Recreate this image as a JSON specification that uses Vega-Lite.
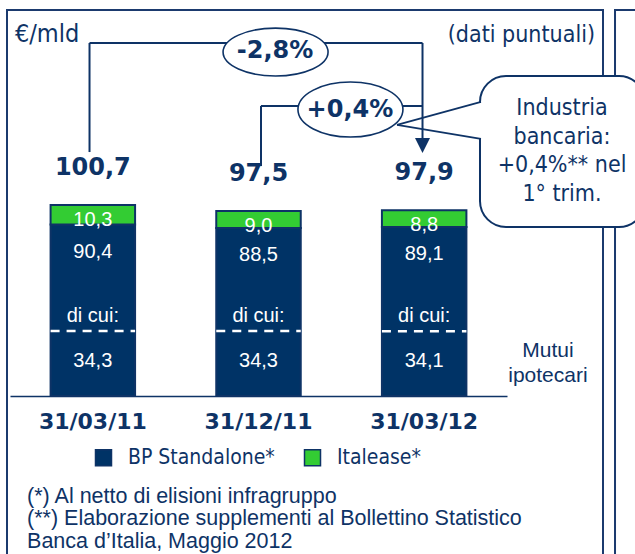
{
 "$schema": "https://vega.github.io/schema/vega-lite/v6.json",
 "width": 497,
 "height": 396,
 "autosize": {"type": "none"},
 "padding": {"left": 10, "top": 0, "right": 128, "bottom": 158},
 "background": "white",
 "config": {
  "view": {"stroke": null},
  "axisQuantitative": {"disable": true},
  "locale": {"number": {"decimal": ",", "thousands": ".", "grouping": [3], "currency": ["", " €"]}}
 },
 "datasets": {
  "bars": [
   {"date": "31/03/11", "series": "BP Standalone*", "value": 90.4},
   {"date": "31/03/11", "series": "Italease*", "value": 10.3},
   {"date": "31/12/11", "series": "BP Standalone*", "value": 88.5},
   {"date": "31/12/11", "series": "Italease*", "value": 9.0},
   {"date": "31/03/12", "series": "BP Standalone*", "value": 89.1},
   {"date": "31/03/12", "series": "Italease*", "value": 8.8}
  ],
  "mutui": [
   {"date": "31/03/11", "value": 34.3},
   {"date": "31/12/11", "value": 34.3},
   {"date": "31/03/12", "value": 34.1}
  ]
 },
 "resolve": {"scale": {"x": "independent"}},
 "layer": [
  {
   "data": {"values": [{}]},
   "layer": [
    {"mark": {"type": "rect", "filled": false, "stroke": "#1b3a6e", "strokeWidth": 2},
     "encoding": {"x": {"datum": -0.0181, "type": "quantitative", "scale": {"domain": [0, 3], "nice": false, "zero": false}, "axis": null}, "x2": {"datum": 3.5795},
                  "y": {"datum": 203.5, "type": "quantitative", "scale": {"domain": [0, 208.75], "nice": false, "zero": false}, "axis": null}, "y2": {"datum": -86.5}}},
    {"mark": {"type": "rect", "filled": false, "stroke": "#1b3a6e", "strokeWidth": 2},
     "encoding": {"x": {"datum": 3.652, "type": "quantitative", "axis": null}, "x2": {"datum": 4.3},
                  "y": {"datum": 203.5, "type": "quantitative", "axis": null}, "y2": {"datum": -86.5}}},
    {"mark": {"type": "rect", "fill": "white", "stroke": "#0e3366", "strokeWidth": 2, "cornerRadius": 26},
     "encoding": {"x": {"datum": 2.837, "type": "quantitative", "axis": null}, "x2": {"datum": 3.833},
                  "y": {"datum": 168.7, "type": "quantitative", "axis": null}, "y2": {"datum": 89.1}}},
    {"mark": {"type": "rect", "fill": "white", "strokeWidth": 0},
     "encoding": {"x": {"datum": 2.825, "type": "quantitative", "axis": null}, "x2": {"datum": 2.855},
                  "y": {"datum": 154.5, "type": "quantitative", "axis": null}, "y2": {"datum": 136.0}}},
    {"mark": {"type": "rule", "color": "#0e3366", "strokeWidth": 2},
     "encoding": {"x": {"datum": 0.48, "type": "quantitative", "axis": null}, "y": {"datum": 128.6, "type": "quantitative", "axis": null}, "y2": {"datum": 186.1}}},
    {"mark": {"type": "rule", "color": "#0e3366", "strokeWidth": 2},
     "encoding": {"x": {"datum": 0.48, "type": "quantitative", "axis": null}, "x2": {"datum": 2.49}, "y": {"datum": 186.1, "type": "quantitative", "axis": null}}},
    {"mark": {"type": "rule", "color": "#0e3366", "strokeWidth": 2},
     "encoding": {"x": {"datum": 2.49, "type": "quantitative", "axis": null}, "y": {"datum": 186.1, "type": "quantitative", "axis": null}, "y2": {"datum": 136.0}}},
    {"mark": {"type": "rule", "color": "#0e3366", "strokeWidth": 2},
     "encoding": {"x": {"datum": 1.515, "type": "quantitative", "axis": null}, "y": {"datum": 121.2, "type": "quantitative", "axis": null}, "y2": {"datum": 152.9}}},
    {"mark": {"type": "rule", "color": "#0e3366", "strokeWidth": 2},
     "encoding": {"x": {"datum": 1.515, "type": "quantitative", "axis": null}, "x2": {"datum": 2.49}, "y": {"datum": 152.9, "type": "quantitative", "axis": null}}},
    {"mark": {"type": "rule", "color": "#0e3366", "strokeWidth": 1.8},
     "encoding": {"x": {"datum": 2.336, "type": "quantitative", "axis": null}, "x2": {"datum": 2.843}, "y": {"datum": 142.9, "type": "quantitative", "axis": null}, "y2": {"datum": 155.0}}},
    {"mark": {"type": "rule", "color": "#0e3366", "strokeWidth": 1.8},
     "encoding": {"x": {"datum": 2.336, "type": "quantitative", "axis": null}, "x2": {"datum": 2.843}, "y": {"datum": 142.9, "type": "quantitative", "axis": null}, "y2": {"datum": 135.5}}},
    {"mark": {"type": "point", "shape": "M -1 -1 L 1 -1 L 0 1 Z", "size": 225, "filled": true, "fill": "#0e3366", "strokeWidth": 0, "opacity": 1},
     "encoding": {"x": {"datum": 2.49, "type": "quantitative", "axis": null}, "y": {"datum": 132.05, "type": "quantitative", "axis": null}}},
    {"mark": {"type": "point", "shape": "M -1 0 A 1 0.457 0 1 1 1 0 A 1 0.457 0 1 1 -1 0 Z", "size": 11025, "filled": true, "fill": "white", "stroke": "#0e3366", "strokeWidth": 1.6, "opacity": 1},
     "encoding": {"x": {"datum": 1.603, "type": "quantitative", "axis": null}, "y": {"datum": 181.3, "type": "quantitative", "axis": null}}},
    {"mark": {"type": "point", "shape": "M -1 0 A 1 0.524 0 1 1 1 0 A 1 0.524 0 1 1 -1 0 Z", "size": 11025, "filled": true, "fill": "white", "stroke": "#0e3366", "strokeWidth": 1.6, "opacity": 1},
     "encoding": {"x": {"datum": 2.055, "type": "quantitative", "axis": null}, "y": {"datum": 151.0, "type": "quantitative", "axis": null}}},
    {"data": {"values": [{"label": "-2,8%"}]},
     "mark": {"type": "text", "font": "DejaVu Sans", "fontWeight": "bold", "fontSize": 24, "color": "#0e3366", "baseline": "middle", "align": "center"},
     "encoding": {"x": {"datum": 1.6, "type": "quantitative", "axis": null}, "y": {"datum": 181.9, "type": "quantitative", "axis": null}, "text": {"field": "label"}}},
    {"data": {"values": [{"label": "+0,4%"}]},
     "mark": {"type": "text", "font": "DejaVu Sans", "fontWeight": "bold", "fontSize": 24, "color": "#0e3366", "baseline": "middle", "align": "center"},
     "encoding": {"x": {"datum": 2.052, "type": "quantitative", "axis": null}, "y": {"datum": 150.8, "type": "quantitative", "axis": null}, "text": {"field": "label"}}},
    {"mark": {"type": "text", "text": "€/mld", "font": "DejaVu Sans Condensed", "fontSize": 25, "color": "#0e3366", "baseline": "alphabetic", "align": "left"},
     "encoding": {"x": {"datum": 0.03, "type": "quantitative", "axis": null}, "y": {"datum": 186.6, "type": "quantitative", "axis": null}}},
    {"mark": {"type": "text", "text": "(dati puntuali)", "font": "DejaVu Sans Condensed", "fontSize": 23, "color": "#0e3366", "baseline": "alphabetic", "align": "right"},
     "encoding": {"x": {"datum": 3.531, "type": "quantitative", "axis": null}, "y": {"datum": 186.6, "type": "quantitative", "axis": null}}},
    {"mark": {"type": "text", "text": ["Industria", "bancaria:", "+0,4%** nel", "1° trim."], "lineHeight": 28.5, "font": "DejaVu Sans Condensed", "fontSize": 23, "color": "#0e3366", "baseline": "alphabetic", "align": "center"},
     "encoding": {"x": {"datum": 3.332, "type": "quantitative", "axis": null}, "y": {"datum": 148.1, "type": "quantitative", "axis": null}}},
    {"mark": {"type": "text", "text": ["Mutui", "ipotecari"], "lineHeight": 25, "font": "Liberation Sans", "fontSize": 21, "color": "#0e3366", "baseline": "alphabetic", "align": "center"},
     "encoding": {"x": {"datum": 3.247, "type": "quantitative", "axis": null}, "y": {"datum": 20.6, "type": "quantitative", "axis": null}}},
    {"mark": {"type": "text", "text": ["(*) Al netto di elisioni infragruppo", "(**) Elaborazione supplementi al Bollettino Statistico", "Banca d’Italia, Maggio 2012"], "lineHeight": 22.5, "font": "Liberation Sans", "fontSize": 21.5, "color": "#0e3366", "baseline": "alphabetic", "align": "left"},
     "encoding": {"x": {"datum": 0.103, "type": "quantitative", "axis": null}, "y": {"datum": -56.2, "type": "quantitative", "axis": null}}}
   ]
  },
  {
   "layer": [
    {"data": {"name": "bars"},
     "mark": {"type": "bar", "stroke": "#0e3366", "strokeWidth": 2},
     "encoding": {
      "x": {"field": "date", "type": "nominal", "sort": null,
            "scale": {"paddingInner": 0.49, "paddingOuter": 0.245},
            "axis": {"title": null, "labelFont": "DejaVu Sans", "labelFontWeight": "bold", "labelFontSize": 22, "labelColor": "#0e3366", "labelAngle": 0, "ticks": false, "tickSize": 0, "labelPadding": 32, "labelBaseline": "alphabetic", "domainColor": "#0e3366", "domainWidth": 1.5, "grid": false}},
      "y": {"field": "value", "type": "quantitative", "stack": "zero", "scale": {"domain": [0, 208.75], "nice": false, "zero": false}, "axis": null},
      "color": {"field": "series", "type": "nominal",
                "scale": {"domain": ["BP Standalone*", "Italease*"], "range": ["#003366", "#33cc33"]},
                "legend": {"title": null, "orient": "none", "legendX": 83, "legendY": 447, "direction": "horizontal", "columns": 2, "symbolType": "square", "symbolSize": 256, "symbolStrokeColor": "#0e3366", "symbolStrokeWidth": 1.5, "symbolOpacity": 1, "labelFont": "DejaVu Sans Condensed", "labelFontSize": 21, "labelColor": "#0e3366", "labelOffset": 14, "columnPadding": 26, "padding": 0}},
      "order": {"field": "series", "sort": "ascending"}
     }},
    {"data": {"name": "bars"},
     "transform": [{"joinaggregate": [{"op": "sum", "field": "value", "as": "total"}], "groupby": ["date"]}, {"filter": "datum.series == 'Italease*'"}],
     "mark": {"type": "text", "font": "Liberation Sans", "fontSize": 20, "color": "white", "baseline": "middle", "dy": 15},
     "encoding": {"x": {"field": "date", "type": "nominal", "sort": null}, "y": {"field": "total", "type": "quantitative", "stack": null}, "text": {"field": "value", "type": "quantitative", "format": ".1f"}}},
    {"data": {"name": "bars"},
     "transform": [{"filter": "datum.series == 'BP Standalone*'"}],
     "mark": {"type": "text", "font": "Liberation Sans", "fontSize": 20, "color": "white", "baseline": "middle", "dy": 27},
     "encoding": {"x": {"field": "date", "type": "nominal", "sort": null}, "y": {"field": "value", "type": "quantitative", "stack": null}, "text": {"field": "value", "type": "quantitative", "format": ".1f"}}},
    {"data": {"name": "bars"},
     "transform": [{"aggregate": [{"op": "sum", "field": "value", "as": "total"}], "groupby": ["date"]}],
     "mark": {"type": "text", "font": "DejaVu Sans", "fontWeight": "bold", "fontSize": 24, "color": "#0e3366", "baseline": "middle", "dy": -37},
     "encoding": {"x": {"field": "date", "type": "nominal", "sort": null}, "y": {"field": "total", "type": "quantitative", "stack": null}, "text": {"field": "total", "type": "quantitative", "format": ".1f"}}},
    {"data": {"name": "mutui"},
     "mark": {"type": "rule", "color": "white", "strokeWidth": 2.5, "strokeDash": [9, 7]},
     "encoding": {"x": {"field": "date", "type": "nominal", "sort": null, "bandPosition": 0}, "x2": {"field": "date", "bandPosition": 1}, "y": {"field": "value", "type": "quantitative"}}},
    {"data": {"name": "mutui"},
     "mark": {"type": "text", "text": "di cui:", "font": "Liberation Sans", "fontSize": 20, "color": "white", "baseline": "middle", "dy": -15},
     "encoding": {"x": {"field": "date", "type": "nominal", "sort": null}, "y": {"field": "value", "type": "quantitative"}}},
    {"data": {"name": "mutui"},
     "mark": {"type": "text", "font": "Liberation Sans", "fontSize": 20, "color": "white", "baseline": "middle", "dy": 30},
     "encoding": {"x": {"field": "date", "type": "nominal", "sort": null}, "y": {"field": "value", "type": "quantitative"}, "text": {"field": "value", "type": "quantitative", "format": ".1f"}}}
   ]
  }
 ]
}
